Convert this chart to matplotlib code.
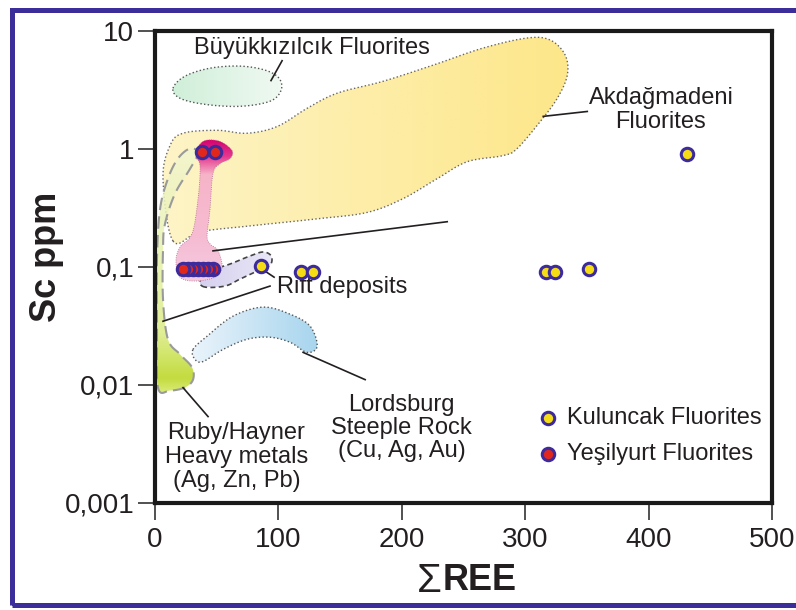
import numpy as np
import matplotlib
matplotlib.use("Agg")
import matplotlib.pyplot as plt
from matplotlib.patches import Polygon, Rectangle
from matplotlib.colors import LinearSegmentedColormap

plt.rcParams['font.family'] = ['Liberation Sans', 'DejaVu Sans']
TXT = '#231f20'

# --- measured samples ---
kuluncak_ree = [86, 118, 128, 317, 324, 352, 431]
kuluncak_sc = [0.102, 0.091, 0.091, 0.091, 0.091, 0.096, 0.90]
yesilyurt_ree = [49, 38, 47, 43, 39, 35, 31, 27, 23]
yesilyurt_sc = [0.95, 0.95, 0.096, 0.096, 0.096, 0.096, 0.096, 0.096, 0.096]

# --- literature fields (outlines, REE vs Sc) ---
akdag_ree = [14.6, 6.5, 12.2, 22.7, 50.3, 74.6, 98.9, 123.2, 147.6, 184.9, 225.4, 265.9,
             301.6, 320.3, 332.4, 334.1, 326.0, 312.2, 293.5, 282.2, 253.0, 228.6, 201.1,
             171.9, 131.4, 77.0, 36.5]
akdag_sc = [0.166, 0.56, 1.07, 1.36, 1.44, 1.36, 1.55, 2.21, 2.97, 3.75, 5.14, 7.17,
            8.72, 8.38, 6.25, 4.22, 2.69, 1.71, 1.01, 0.88, 0.78, 0.56, 0.38,
            0.29, 0.256, 0.223, 0.199]
buyuk_ree = [14.6, 24.3, 44.6, 68.9, 89.2, 100.5, 102.2, 93.2, 68.9, 40.5, 20.3]
buyuk_sc = [3.27, 4.14, 4.84, 5.04, 4.66, 3.98, 3.15, 2.54, 2.30, 2.39, 2.69]
yesil_field_ree = [34.1, 40.5, 52.7, 62.4, 60.8, 52.7, 47.0, 44.6, 42.2, 44.6, 51.1, 54.3,
                   48.6, 32.4, 20.3, 17.0, 20.3, 30.0, 34.9, 36.5, 33.2]
yesil_field_sc = [1.01, 1.18, 1.16, 0.97, 0.83, 0.75, 0.62, 0.31, 0.184, 0.157, 0.137, 0.10,
                  0.082, 0.076, 0.082, 0.112, 0.148, 0.191, 0.38, 0.71, 0.86]
rift_ree = [40.5, 36.5, 44.6, 60.8, 77.0, 87.6, 94.1, 93.2, 81.1, 68.9, 56.8]
rift_sc = [0.0676, 0.076, 0.0925, 0.106, 0.124, 0.134, 0.124, 0.104, 0.0906, 0.079, 0.069]
ruby_ree = [2.4, 12.2, 24.3, 30.8, 30.0, 20.3, 10.5, 6.5, 6.5, 8.1, 16.2, 28.4, 34.9,
            28.4, 18.6, 10.5, 4.1, 1.6, 1.6]
ruby_sc = [0.00953, 0.00898, 0.00953, 0.0111, 0.0141, 0.0182, 0.0244, 0.0534, 0.142, 0.232,
           0.418, 0.68, 0.92, 1.01, 0.83, 0.56, 0.31, 0.117, 0.0297]
lords_ree = [30.8, 42.2, 63.2, 87.6, 109.5, 125.7, 131.4, 123.2, 109.5, 93.2, 74.6, 55.1,
             38.9, 32.4]
lords_sc = [0.0200, 0.0259, 0.0383, 0.0457, 0.0398, 0.0315, 0.0213, 0.0189, 0.0230, 0.0254,
            0.0244, 0.0200, 0.0158, 0.0165]

x_ticks = [0, 100, 200, 300, 400, 500]
y_ticks = [0.001, 0.01, 0.1, 1, 10]
y_tick_labels = ['0,001', '0,01', '0,1', '1', '10']


def smooth_closed(xs, ys, n=16):
    # closed catmull-rom in (x, log y)
    pts = np.column_stack([np.asarray(xs, float), np.log10(ys)])
    N = len(pts)
    t = np.linspace(0, 1, n, endpoint=False)[:, None]
    out = []
    for i in range(N):
        p0, p1, p2, p3 = pts[i - 1], pts[i], pts[(i + 1) % N], pts[(i + 2) % N]
        out.append(0.5 * (2 * p1 + (-p0 + p2) * t + (2 * p0 - 5 * p1 + 4 * p2 - p3) * t ** 2
                          + (-p0 + 3 * p1 - 3 * p2 + p3) * t ** 3))
    out = np.vstack(out)
    return out[:, 0], 10 ** out[:, 1]


def field(ax, xs, ys, colors, vertical=False, ls=':', ec='#555555', lw=1.0, z=1, alpha=1.0,
          stops=None):
    sx, sy = smooth_closed(xs, ys)
    poly = Polygon(np.column_stack([sx, sy]), closed=True, fc='none', ec=ec, lw=lw, ls=ls,
                   zorder=z + 0.5)
    ax.add_patch(poly)
    # gradient image in axes coords, clipped to the outline
    to_ax = ax.transData + ax.transAxes.inverted()
    a = to_ax.transform(np.column_stack([sx, sy]))
    x0, x1 = a[:, 0].min(), a[:, 0].max()
    y0, y1 = a[:, 1].min(), a[:, 1].max()
    if stops is None:
        cmap = LinearSegmentedColormap.from_list('g', colors)
    else:
        cmap = LinearSegmentedColormap.from_list('g', list(zip(stops, colors)))
    g = np.linspace(0, 1, 256)
    img = g[:, None] if vertical else g[None, :]
    im = ax.imshow(img, cmap=cmap, extent=[x0, x1, y0, y1], transform=ax.transAxes,
                   aspect='auto', origin='lower', zorder=z, alpha=alpha, interpolation='bilinear')
    clip = Polygon(np.column_stack([sx, sy]), closed=True, transform=ax.transData)
    im.set_clip_path(clip)


fig = plt.figure(figsize=(7.96, 6.10), dpi=100)
ax = fig.add_axes([155 / 796, 107 / 610, 617 / 796, 472 / 610])
ax.set_yscale('log')
ax.set_xlim(0, 500)
ax.set_ylim(0.001, 10)

field(ax, akdag_ree, akdag_sc, ['#fdf4c6', '#fde78a'], z=1, ec='#666666')
field(ax, buyuk_ree, buyuk_sc, ['#d0efd9', '#f0f9f2'], z=1, ec='#555555')
field(ax, ruby_ree, ruby_sc, ['#d4e860', '#b9d61c', '#dcec84', '#e8f2b0', '#f2f6d0'],
      vertical=True, stops=[0.0, 0.06, 0.25, 0.6, 1.0], ls=(0, (6, 3)), ec='#9a9a9a',
      lw=1.5, z=2, alpha=0.85)
field(ax, lords_ree, lords_sc, ['#eaf4fb', '#a8d5ee'], z=2, ec='#555555')
field(ax, rift_ree, rift_sc, ['#d6d0ef', '#e9e7f6'], z=2, ls=(0, (3, 2)), ec='#444444', lw=1.2)
field(ax, yesil_field_ree, yesil_field_sc,
      ['#f4cbe2', '#f6bcd2', '#f7b4c8', '#e4378e', '#d4006e'],
      vertical=True, stops=[0.0, 0.3, 0.75, 0.88, 1.0], z=3, ec='#b07090', lw=0.6)

ax.set_xlim(0, 500)
ax.set_ylim(0.001, 10)

# leader lines
leaders = [((89, 0.0925), (96.5, 0.082)),
           ((6.5, 0.0347), (93.2, 0.0689)),
           ((47.0, 0.137), (236.8, 0.242)),
           ((314.6, 1.89), (350.3, 2.08)),
           ((94, 3.8), (103, 5.6)),
           ((120, 0.0189), (170.3, 0.0111)),
           ((22.7, 0.0095), (43.0, 0.0054))]
for (xa, ya), (xb, yb) in leaders:
    ax.plot([xa, xb], [ya, yb], color='#231f20', lw=1.2, zorder=4)

ax.scatter(kuluncak_ree, kuluncak_sc, s=80, c='#f5dc14', edgecolors='#3d2b9c', linewidths=2.2,
           zorder=6, label='Kuluncak Fluorites')
ax.scatter(yesilyurt_ree, yesilyurt_sc, s=80, c='#e1261c', edgecolors='#3d2b9c',
           linewidths=2.2, zorder=6, label='Yeşilyurt Fluorites')

fs = 17
ax.text(127, 7.2, 'Büyükkızılcık Fluorites', fontsize=fs, color=TXT, ha='center', va='center')
ax.text(410, 2.15, 'Akdağmadeni\nFluorites', fontsize=fs, color=TXT, ha='center', va='center',
        linespacing=1.1)
ax.text(99, 0.068, 'Rift deposits', fontsize=fs, color=TXT, ha='left', va='center')
ax.text(200, 0.0043, 'Lordsburg\nSteeple Rock\n(Cu, Ag, Au)', fontsize=fs, color=TXT,
        ha='center', va='center', linespacing=1.05)
ax.text(66, 0.00245, 'Ruby/Hayner\nHeavy metals\n(Ag, Zn, Pb)', fontsize=fs, color=TXT,
        ha='center', va='center', linespacing=1.12)

ax.legend(loc='upper left', bbox_to_anchor=(0.618, 0.203), frameon=False, fontsize=fs,
          borderaxespad=0, borderpad=0, handlelength=1.0, handletextpad=0.3,
          labelspacing=0.58, scatterpoints=1, labelcolor=TXT)

ax.set_xticks(x_ticks)
ax.set_yticks(y_ticks)
ax.set_yticklabels(y_tick_labels)
ax.minorticks_off()
ax.tick_params(axis='both', direction='out', length=12, width=1.2, color='#333333',
               labelsize=20, labelcolor=TXT, pad=3)
ax.tick_params(axis='x', pad=5)
for sp in ax.spines.values():
    sp.set_linewidth(3.0)
    sp.set_color('#1a1a1a')

fig.text(47 / 796, 1 - 257 / 610, 'Sc ppm', rotation=90, fontsize=26, fontweight='bold',
         color=TXT, ha='center', va='center')
fig.text(442 / 796, 1 - 581 / 610, 'Σ', fontsize=29, color=TXT, ha='right', va='center')
fig.text(443 / 796, 1 - 581 / 610, 'REE', fontsize=26, fontweight='bold', color=TXT,
         ha='left', va='center')

# outer frame
fig.add_artist(Rectangle((12.5 / 796, 5.5 / 610), 1.1, 595 / 610, transform=fig.transFigure,
                         fill=False, ec='#3c2e9a', lw=3.6))

fig.savefig('out.png', dpi=100)
